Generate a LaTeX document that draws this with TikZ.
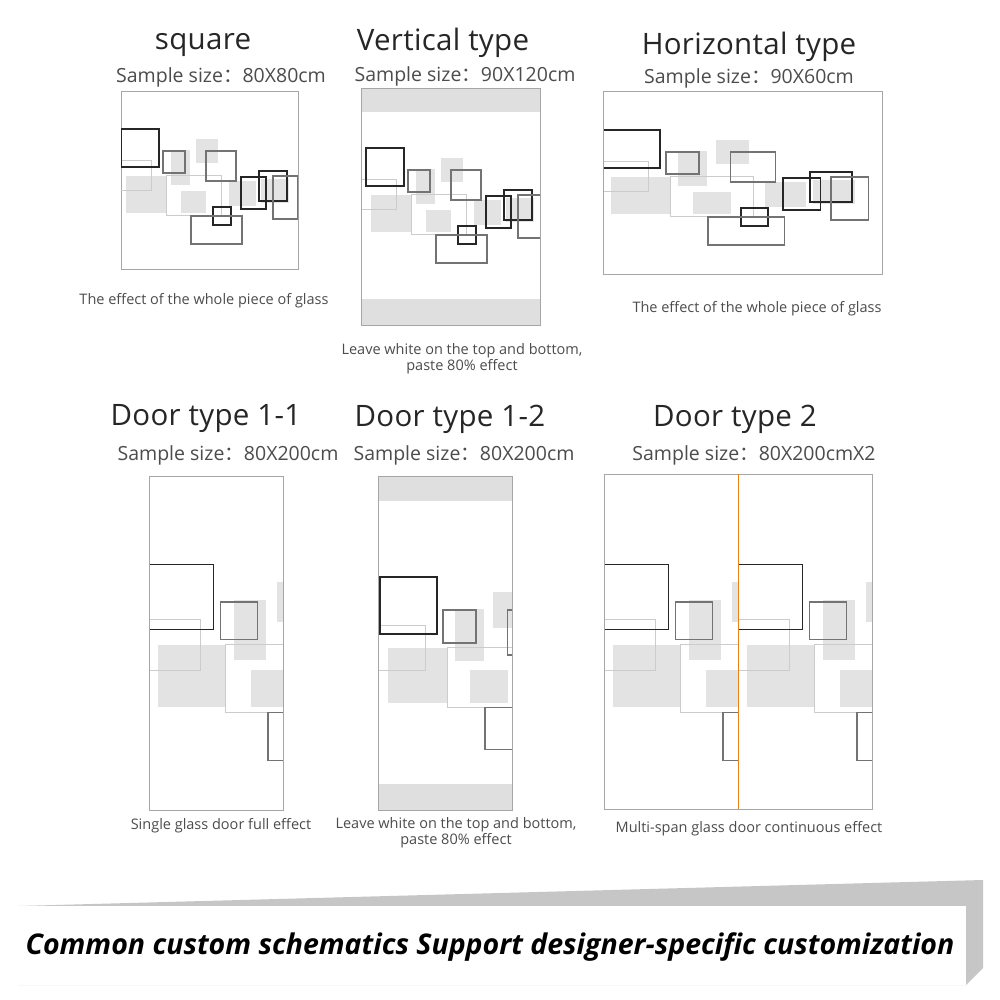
\documentclass[tikz,border=0pt]{standalone}
\usepackage{fontspec}
\setmainfont{Open Sans}
\newfontfamily\cjk{Noto Sans CJK SC}
\usetikzlibrary{positioning}
\colorlet{glassfill}{gray!22}
\colorlet{bandgray}{gray!25}
\colorlet{framegray}{gray!70}
\tikzset{
    panel/.style={draw=framegray,line width=0.8pt},
    band/.style={fill=bandgray,draw=none},
    title/.style={font=\fontsize{29.5}{32}\selectfont\addfontfeature{LetterSpace=1},text=black!85},
    sample/.style={font=\fontsize{19.5}{22}\selectfont,text=black!70},
    caption/.style={font=\fontsize{14.5}{16}\selectfont,text=black!70,align=center},
    sq_dark/.style={draw=black!85,line width=1.2pt},
    sq_mid/.style={draw=black!55,line width=1.2pt},
    sq_light/.style={draw=black!20,line width=1pt},
}
\newcommand{\sep}{{\cjk ：}}
% one motif of squares, drawn in panel coordinates
\newcommand{\glassmotif}{%
  \fill[glassfill] (5,85) rectangle (45,122);
  \fill[glassfill] (50,59) rectangle (69,94);
  \fill[glassfill] (75,48) rectangle (97,72);
  \fill[glassfill] (60,100) rectangle (85,122);
  \fill[glassfill] (108,90) rectangle (135,115);
  \fill[glassfill] (140,88) rectangle (168,112);
  \draw[sq_light] (45,85) rectangle (100,125);
  \draw[sq_light] (-5,70) rectangle (30,100);
  \draw[sq_dark] (0,38) rectangle (38,76);
  \draw[sq_mid] (42,60) rectangle (64,82);
  \draw[sq_mid] (85,60) rectangle (115,90);
  \draw[sq_dark] (92,116) rectangle (110,134);
  \draw[sq_mid] (70,125) rectangle (121,153);
  \draw[sq_dark] (120,86) rectangle (145,118);
  \draw[sq_dark] (138,80) rectangle (166,110);
  \draw[sq_mid] (152,85) rectangle (177,128);
}
\begin{document}
\begin{tikzpicture}[x=1pt,y=-1pt]
  \useasboundingbox[fill=white] (0,0) rectangle (1000,1000);
  % ---- top row
  \node[title] (t_sq) at (203,45) {square};
  \node[sample] (s_sq) at (221,77) {Sample size\sep 80X80cm};
  \draw[panel] (121,91) rectangle (298,269);
  \begin{scope}
    \clip (121,91) rectangle (298,269);
    \begin{scope}[shift={(121,91)}]\glassmotif\end{scope}
  \end{scope}
  \node[caption] (c_sq) at (204,301) {The effect of the whole piece of glass};

  \node[title] (t_vt) at (443,43) {Vertical type};
  \node[sample] (s_vt) at (465,76) {Sample size\sep 90X120cm};
  \fill[band] (361,88) rectangle (540,112);
  \fill[band] (361,299) rectangle (540,325);
  \begin{scope}
    \clip (361,88) rectangle (540,325);
    \begin{scope}[shift={(366,110)}]\glassmotif\end{scope}
  \end{scope}
  \draw[panel] (361,88) rectangle (540,325);
  \node[caption] (c_vt) at (462,359) {Leave white on the top and bottom,\\paste 80\% effect};

  \node[title] (t_hz) at (749,47) {Horizontal type};
  \node[sample] (s_hz) at (749,78) {Sample size\sep 90X60cm};
  \begin{scope}
    \clip (603,91) rectangle (882,274);
    \begin{scope}[shift={(603,92)},xscale=1.5]\glassmotif\end{scope}
  \end{scope}
  \draw[panel] (603,91) rectangle (882,274);
  \node[caption] (c_hz) at (757,309) {The effect of the whole piece of glass};

  % ---- bottom row
  \node[title] (t_d11) at (206,419) {Door type 1-1};
  \node[sample] (s_d11) at (228,455) {Sample size\sep 80X200cm};
  \begin{scope}
    \clip (149,476) rectangle (283,810);
    \begin{scope}[shift={(149,500)},scale=1.7]\glassmotif\end{scope}
  \end{scope}
  \draw[panel] (149,476) rectangle (283,810);
  \node[caption] (c_d11) at (221,826) {Single glass door full effect};

  \node[title] (t_d12) at (450,419) {Door type 1-2};
  \node[sample] (s_d12) at (464,455) {Sample size\sep 80X200cm};
  \fill[band] (378,476) rectangle (512,501);
  \fill[band] (378,784) rectangle (512,810);
  \begin{scope}
    \clip (378,476) rectangle (512,810);
    \begin{scope}[shift={(380,520)},scale=1.5]\glassmotif\end{scope}
  \end{scope}
  \draw[panel] (378,476) rectangle (512,810);
  \node[caption] (c_d12) at (456,833) {Leave white on the top and bottom,\\paste 80\% effect};

  \node[title] (t_d2) at (735,419) {Door type 2};
  \node[sample] (s_d2) at (754,455) {Sample size\sep 80X200cmX2};
  \begin{scope}
    \clip (604,474) rectangle (738,809);
    \begin{scope}[shift={(604,500)},scale=1.7]\glassmotif\end{scope}
  \end{scope}
  \begin{scope}
    \clip (738,474) rectangle (872,809);
    \begin{scope}[shift={(738,500)},scale=1.7]\glassmotif\end{scope}
  \end{scope}
  \draw[panel] (604,474) rectangle (872,809);
  \draw[orange!70!brown,line width=1pt] (738,474) -- (738,809);
  \node[caption] (c_d2) at (749,829) {Multi-span glass door continuous effect};

  % ---- banner
  \fill[gray!45] (18,906) -- (983,880) -- (983,968) -- (966,985) -- (18,985) -- cycle;
  \fill[white] (18,906) rectangle (966,985);
  \node[font=\fontsize{28.5}{32}\bfseries\itshape\selectfont] (banner) at (490,947)
    {Common custom schematics Support designer-specific customization};
\end{tikzpicture}
\end{document}
